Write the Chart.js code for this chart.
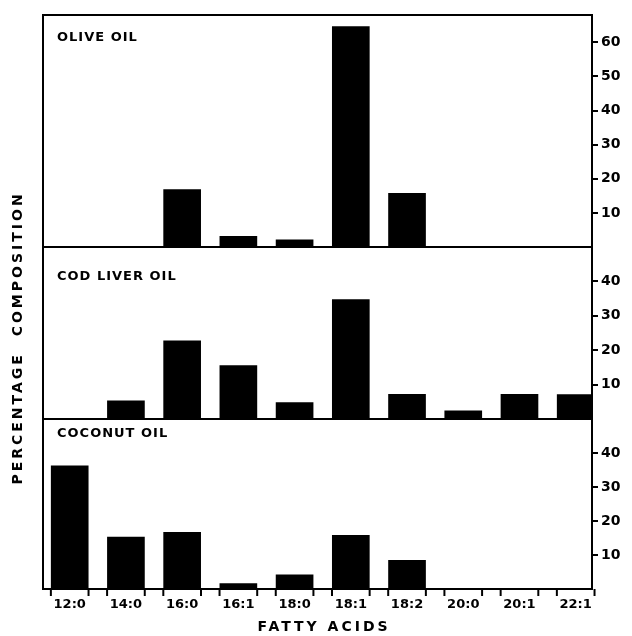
<!DOCTYPE html>
<html>
<head>
<meta charset="utf-8">
<script src="https://cdn.jsdelivr.net/npm/chart.js@4"></script>
<style>
  body { margin: 0; background: #fff; }
</style>
</head>
<body>
<canvas id="fatChart" width="632" height="636"></canvas>
<script>
// fatty acid composition (%)
const fattyAcids = ['12:0', '14:0', '16:0', '16:1', '18:0', '18:1', '18:2', '20:0', '20:1', '22:1'];
const oliveOil = [0, 0, 16.9, 3.2, 2.2, 64.7, 15.8, 0, 0, 0];
const codLiverOil = [0, 5.4, 22.8, 15.6, 4.9, 34.8, 7.3, 2.5, 7.3, 7.2];
const coconutOil = [36.3, 15.4, 16.8, 1.7, 4.3, 15.9, 8.5, 0, 0, 0];
const panelNames = ['OLIVE OIL', 'COD LIVER OIL', 'COCONUT OIL'];
const oliveTicks = [10, 20, 30, 40, 50, 60];
const codTicks = [10, 20, 30, 40];
const coconutTicks = [10, 20, 30, 40];

const ink = '#000';
const fontFace = '"DejaVu Sans", sans-serif';

function toPoints(values) {
    return values.map((v, i) => ({ x: i, y: v }));
}

function panelAxis(ticks, max, weight) {
    return {
        type: 'linear',
        position: 'right',
        stack: 'oils',
        stackWeight: weight,
        min: 0,
        max: max,
        afterBuildTicks: scale => { scale.ticks = ticks.map(v => ({ value: v })); },
        afterFit: scale => { scale.width = 40; },
        grid: { drawOnChartArea: false, drawTicks: true, tickLength: 6, color: ink, lineWidth: 2 },
        border: { display: false },
        ticks: { color: ink, padding: 3, font: { family: fontFace, size: 14, weight: 'bold' } }
    };
}

// frames, panel names, bar-edge ticks and axis titles
const framePlugin = {
    id: 'frames',
    afterDraw(chart) {
        const ctx = chart.ctx;
        const area = chart.chartArea;
        const ids = ['yOlive', 'yCod', 'yCoconut'];
        const nameOffsets = [23, 30, 15];
        ctx.save();
        ctx.strokeStyle = ink;
        ctx.fillStyle = ink;
        ctx.lineWidth = 2;
        ids.forEach((id, k) => {
            const s = chart.scales[id];
            ctx.strokeRect(area.left, s.top, area.right - area.left, s.bottom - s.top);
            ctx.font = 'bold 13px ' + fontFace;
            ctx.letterSpacing = '1px';
            ctx.textBaseline = 'middle';
            ctx.textAlign = 'left';
            ctx.fillText(panelNames[k], area.left + 14, s.top + nameOffsets[k]);
        });

        // little ticks at both edges of every bar slot
        const meta = chart.getDatasetMeta(2);
        ctx.lineWidth = 2;
        meta.data.forEach(bar => {
            [bar.x - bar.width / 2, bar.x + bar.width / 2].forEach(px => {
                ctx.beginPath();
                ctx.moveTo(px, area.bottom);
                ctx.lineTo(px, area.bottom + 7);
                ctx.stroke();
            });
        });

        ctx.font = 'bold 14px ' + fontFace;
        ctx.letterSpacing = '3px';
        ctx.textAlign = 'center';
        ctx.textBaseline = 'middle';
        ctx.fillText('FATTY ACIDS', 324, 627);

        ctx.translate(18, 338);
        ctx.rotate(-Math.PI / 2);
        ctx.fillText('PERCENTAGE  COMPOSITION', 0, 0);
        ctx.restore();
    }
};

const barStyle = { yAxisID: 'yOlive', backgroundColor: ink, borderWidth: 0 };

const config = {
    type: 'bar',
    data: {
        datasets: [
            { ...barStyle, label: panelNames[0], data: toPoints(oliveOil), yAxisID: 'yOlive' },
            { ...barStyle, label: panelNames[1], data: toPoints(codLiverOil), yAxisID: 'yCod' },
            { ...barStyle, label: panelNames[2], data: toPoints(coconutOil), yAxisID: 'yCoconut' }
        ]
    },
    options: {
        responsive: false,
        animation: false,
        layout: { padding: { top: 15, left: 43, right: 0, bottom: 0 } },
        datasets: {
            bar: {
                grouped: false,
                categoryPercentage: 1,
                barPercentage: 0.67
            }
        },
        plugins: { legend: { display: false }, tooltip: { enabled: false }, colors: { enabled: false } },
        scales: {
            x: {
                type: 'linear',
                offset: false,
                min: -0.475,
                max: 9.29,
                afterBuildTicks: scale => { scale.ticks = fattyAcids.map((_, i) => ({ value: i })); },
                afterFit: scale => { scale.height = 47; },
                grid: { offset: false, drawOnChartArea: false, drawTicks: true, tickLength: 7, color: 'rgba(0,0,0,0)' },
                border: { display: false },
                ticks: {
                    autoSkip: false,
                    maxRotation: 0,
                    padding: 1,
                    color: ink,
                    font: { family: fontFace, size: 13, weight: 'bold' },
                    callback: value => fattyAcids[value]
                }
            },
            yOlive: panelAxis(oliveTicks, 68, 232),
            yCod: panelAxis(codTicks, 50, 172),
            yCoconut: panelAxis(coconutTicks, 50, 170)
        }
    },
    plugins: [framePlugin]
};

window.onload = function() {
    const ctx = document.getElementById('fatChart').getContext('2d');
    window.fatChart = new Chart(ctx, config);
};
</script>
</body>
</html>
